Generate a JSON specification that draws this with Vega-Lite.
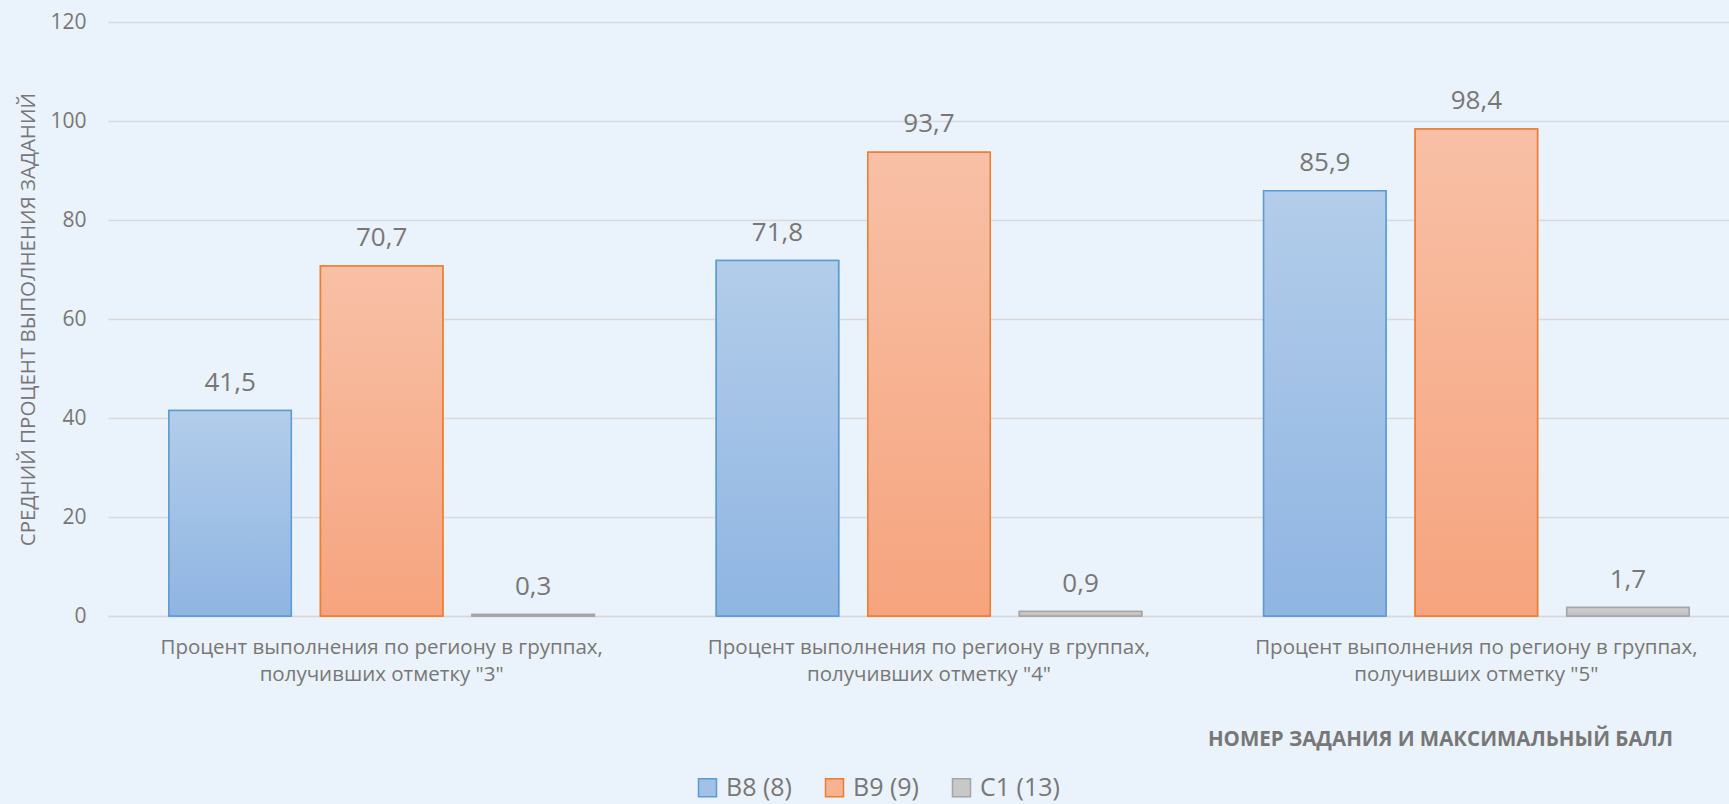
{
  "$schema": "https://vega.github.io/schema/vega-lite/v6.json",
  "width": 1621,
  "height": 594,
  "autosize": "none",
  "padding": {"left": 108, "top": 22, "right": 0, "bottom": 188},
  "background": "#eaf2fb",
  "config": {
    "font": "Open Sans",
    "view": {"stroke": null},
    "locale": {"number": {"decimal": ",", "thousands": " ", "grouping": [3], "currency": ["", ""]}}
  },
  "data": {
    "values": [
      {"group": "Процент выполнения по региону в группах,|получивших отметку \"3\"", "series": "B8 (8)", "value": 41.5},
      {"group": "Процент выполнения по региону в группах,|получивших отметку \"3\"", "series": "B9 (9)", "value": 70.7},
      {"group": "Процент выполнения по региону в группах,|получивших отметку \"3\"", "series": "C1 (13)", "value": 0.3},
      {"group": "Процент выполнения по региону в группах,|получивших отметку \"4\"", "series": "B8 (8)", "value": 71.8},
      {"group": "Процент выполнения по региону в группах,|получивших отметку \"4\"", "series": "B9 (9)", "value": 93.7},
      {"group": "Процент выполнения по региону в группах,|получивших отметку \"4\"", "series": "C1 (13)", "value": 0.9},
      {"group": "Процент выполнения по региону в группах,|получивших отметку \"5\"", "series": "B8 (8)", "value": 85.9},
      {"group": "Процент выполнения по региону в группах,|получивших отметку \"5\"", "series": "B9 (9)", "value": 98.4},
      {"group": "Процент выполнения по региону в группах,|получивших отметку \"5\"", "series": "C1 (13)", "value": 1.7}
    ]
  },
  "encoding": {
    "x": {
      "field": "group",
      "type": "nominal",
      "sort": null,
      "scale": {"range": [0, 1642], "paddingInner": 0.2227, "paddingOuter": 0.1113},
      "axis": {
        "labelExpr": "split(datum.label, '|')",
        "labelAngle": 0,
        "labelFontSize": 20.5,
        "labelLineHeight": 27,
        "labelColor": "#777777",
        "labelPadding": 21,
        "labelLimit": 600,
        "ticks": false,
        "domain": true,
        "domainColor": "#d9d9d9",
        "domainWidth": 1.5,
        "title": "НОМЕР ЗАДАНИЯ И МАКСИМАЛЬНЫЙ БАЛЛ",
        "titleFontSize": 20.5,
        "titleFontWeight": "bold",
        "titleColor": "#777777",
        "titleX": 1332,
        "titleY": 123,
        "titleAlign": "center",
        "titleBaseline": "middle"
      }
    },
    "xOffset": {"field": "series", "type": "nominal", "sort": null, "scale": {"paddingInner": 0.1925, "paddingOuter": 0}},
    "y": {
      "field": "value",
      "type": "quantitative",
      "scale": {"domain": [0, 120], "nice": false},
      "axis": {
        "values": [0, 20, 40, 60, 80, 100, 120],
        "grid": true,
        "gridColor": "#d9d9d9",
        "gridWidth": 1.5,
        "domain": false,
        "ticks": false,
        "labelFontSize": 21,
        "labelColor": "#777777",
        "labelPadding": 22,
        "title": "СРЕДНИЙ ПРОЦЕНТ ВЫПОЛНЕНИЯ ЗАДАНИЙ",
        "titleFontSize": 20.5,
        "titleFontWeight": "normal",
        "titleColor": "#777777",
        "titleX": -80,
        "titleY": 297,
        "titleAngle": 270,
        "titleAlign": "center",
        "titleBaseline": "middle"
      }
    }
  },
  "layer": [
    {
      "mark": {"type": "bar", "strokeWidth": 1.5, "fillOpacity": 1},
      "encoding": {
        "fill": {
          "field": "series",
          "type": "nominal",
          "sort": null,
          "scale": {"domain": ["B8 (8)", "B9 (9)", "C1 (13)"], "range": ["#a2c1e6", "#f7b292", "#c8c8c8"]},
          "legend": {
            "orient": "none",
            "legendX": 587,
            "legendY": 753,
            "direction": "horizontal",
            "title": null,
            "symbolType": "square",
            "symbolSize": 324,
            "symbolStrokeWidth": 1.5,
            "labelFontSize": 25,
            "labelColor": "#777777",
            "labelOffset": 6,
            "columnPadding": 30
          }
        },
        "stroke": {
          "field": "series",
          "type": "nominal",
          "sort": null,
          "scale": {"domain": ["B8 (8)", "B9 (9)", "C1 (13)"], "range": ["#5b9bd5", "#ed7d31", "#a5a5a5"]},
          "legend": {
            "orient": "none",
            "legendX": 587,
            "legendY": 753,
            "direction": "horizontal",
            "title": null,
            "symbolType": "square",
            "symbolSize": 324,
            "symbolStrokeWidth": 1.5,
            "labelFontSize": 25,
            "labelColor": "#777777",
            "labelOffset": 6,
            "columnPadding": 30
          }
        }
      }
    },
    {
      "transform": [{"filter": "datum.series === 'B8 (8)'"}],
      "mark": {"type": "bar", "strokeWidth": 1.5, "stroke": "#5b9bd5", "fill": {"gradient": "linear", "x1": 0, "y1": 0, "x2": 0, "y2": 1, "stops": [{"offset": 0, "color": "#b3cdea"}, {"offset": 1, "color": "#8fb5e2"}]}}
    },
    {
      "transform": [{"filter": "datum.series === 'B9 (9)'"}],
      "mark": {"type": "bar", "strokeWidth": 1.5, "stroke": "#ed7d31", "fill": {"gradient": "linear", "x1": 0, "y1": 0, "x2": 0, "y2": 1, "stops": [{"offset": 0, "color": "#f8c0a6"}, {"offset": 1, "color": "#f6a47e"}]}}
    },
    {
      "transform": [{"filter": "datum.series === 'C1 (13)'"}],
      "mark": {"type": "bar", "strokeWidth": 1.5, "stroke": "#a5a5a5", "fill": {"gradient": "linear", "x1": 0, "y1": 0, "x2": 0, "y2": 1, "stops": [{"offset": 0, "color": "#d2d2d2"}, {"offset": 1, "color": "#bdbdbd"}]}}
    },
    {
      "mark": {"type": "text", "fontSize": 26, "color": "#777777", "baseline": "alphabetic", "dy": -20},
      "encoding": {
        "text": {"field": "value", "type": "quantitative", "format": ".1f"}
      }
    }
  ]
}
